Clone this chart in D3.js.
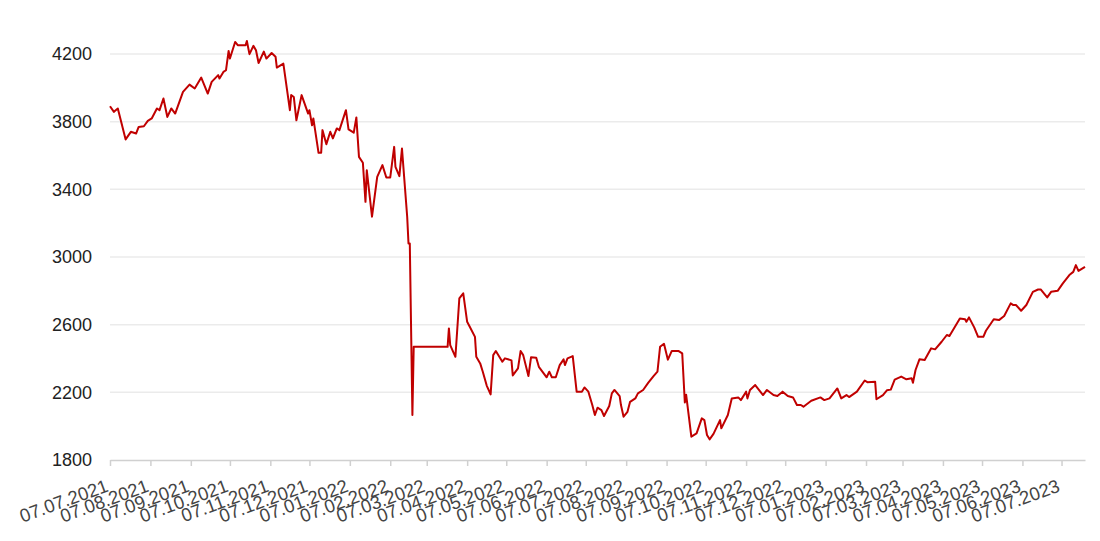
<!DOCTYPE html>
<html>
<head>
<meta charset="utf-8">
<script src="https://cdn.jsdelivr.net/npm/d3@7"></script>
<style>
  html, body { margin: 0; padding: 0; background: #fff; }
  svg { display: block; font-family: "Liberation Sans", Arial, sans-serif; }
</style>
</head>
<body>
<svg id="chart" width="1100" height="541"></svg>
<script>
const dates = [
"2021-07-07","2021-07-10","2021-07-13","2021-07-19","2021-07-23","2021-07-27","2021-07-29","2021-08-02","2021-08-05","2021-08-08",
"2021-08-12","2021-08-14","2021-08-17","2021-08-20","2021-08-23","2021-08-26","2021-09-01","2021-09-06","2021-09-10","2021-09-15",
"2021-09-20","2021-09-23","2021-09-28","2021-09-29","2021-10-02","2021-10-04","2021-10-06","2021-10-07","2021-10-11","2021-10-13",
"2021-10-19","2021-10-20","2021-10-22","2021-10-25","2021-10-27","2021-10-29","2021-11-02","2021-11-04","2021-11-08","2021-11-11",
"2021-11-12","2021-11-17","2021-11-22","2021-11-23","2021-11-25","2021-11-27","2021-12-01","2021-12-06","2021-12-07","2021-12-09",
"2021-12-10","2021-12-14","2021-12-16","2021-12-17","2021-12-20","2021-12-23","2021-12-25","2021-12-28","2021-12-30","2022-01-04",
"2022-01-06","2022-01-10","2022-01-12","2022-01-14","2022-01-17","2022-01-19","2022-01-20","2022-01-24","2022-01-28","2022-02-01",
"2022-02-04","2022-02-07","2022-02-10","2022-02-11","2022-02-14","2022-02-16","2022-02-20","2022-02-21","2022-02-22","2022-02-24",
"2022-02-25","2022-03-23","2022-03-24","2022-03-25","2022-03-29","2022-04-01","2022-04-04","2022-04-07","2022-04-09","2022-04-13",
"2022-04-14","2022-04-17","2022-04-19","2022-04-22","2022-04-25","2022-04-27","2022-04-29","2022-05-04","2022-05-06","2022-05-11",
"2022-05-12","2022-05-16","2022-05-18","2022-05-20","2022-05-24","2022-05-26","2022-05-30","2022-06-01","2022-06-07","2022-06-09",
"2022-06-11","2022-06-14","2022-06-17","2022-06-20","2022-06-21","2022-06-23","2022-06-27","2022-06-30","2022-07-04","2022-07-06",
"2022-07-09","2022-07-12","2022-07-14","2022-07-16","2022-07-19","2022-07-21","2022-07-25","2022-07-27","2022-07-29","2022-08-02",
"2022-08-03","2022-08-05","2022-08-08","2022-08-10","2022-08-14","2022-08-16","2022-08-20","2022-08-24","2022-08-28","2022-08-31",
"2022-09-02","2022-09-05","2022-09-08","2022-09-11","2022-09-16","2022-09-19","2022-09-21","2022-09-22","2022-09-26","2022-09-30",
"2022-10-04","2022-10-06","2022-10-08","2022-10-10","2022-10-13","2022-10-18","2022-10-19","2022-10-24","2022-10-27","2022-11-01",
"2022-11-03","2022-11-07","2022-11-08","2022-11-10","2022-11-14","2022-11-20","2022-11-23","2022-11-28","2022-12-01","2022-12-05",
"2022-12-09","2022-12-13","2022-12-16","2022-12-19","2022-12-21","2022-12-27","2023-01-03","2023-01-06","2023-01-10","2023-01-16",
"2023-01-19","2023-01-23","2023-01-25","2023-01-31","2023-02-06","2023-02-08","2023-02-14","2023-02-15","2023-02-20","2023-02-23",
"2023-02-26","2023-03-01","2023-03-06","2023-03-10","2023-03-14","2023-03-15","2023-03-17","2023-03-20","2023-03-24","2023-03-29",
"2023-04-01","2023-04-06","2023-04-10","2023-04-12","2023-04-20","2023-04-24","2023-04-25","2023-04-27","2023-05-01","2023-05-04",
"2023-05-08","2023-05-10","2023-05-16","2023-05-20","2023-05-24","2023-05-29","2023-05-31","2023-06-02","2023-06-06","2023-06-10",
"2023-06-15","2023-06-19","2023-06-21","2023-06-26","2023-06-29","2023-07-04","2023-07-08","2023-07-13","2023-07-16","2023-07-18",
"2023-07-20","2023-07-25"
];
const values = [
3891,3858,3878,3695,3740,3730,3769,3773,3805,3819,
3878,3868,3937,3828,3878,3848,3976,4019,3996,4061,
3966,4035,4075,4055,4094,4104,4218,4173,4271,4252,
4252,4277,4199,4248,4222,4147,4214,4173,4206,4184,
4120,4143,3868,3957,3946,3808,3957,3848,3868,3779,
3819,3616,3616,3750,3667,3740,3701,3760,3750,3868,
3754,3735,3825,3592,3557,3326,3513,3238,3474,3543,
3470,3470,3651,3533,3478,3641,3238,3080,3080,2066,
2469,2469,2578,2479,2410,2755,2785,2617,2588,2528,
2410,2371,2322,2240,2188,2420,2444,2381,2401,2389,
2300,2342,2444,2420,2296,2407,2404,2351,2289,2322,
2289,2289,2361,2395,2361,2401,2414,2204,2204,2229,
2204,2125,2066,2109,2095,2060,2119,2194,2214,2178,
2125,2056,2085,2144,2164,2194,2214,2257,2296,2322,
2469,2487,2393,2445,2445,2430,2140,2186,1938,1957,
2046,2036,1948,1922,1954,2036,1987,2066,2164,2170,
2154,2204,2164,2214,2243,2184,2214,2184,2178,2204,
2178,2170,2125,2125,2115,2150,2170,2154,2164,2223,
2164,2184,2172,2204,2270,2260,2263,2159,2184,2212,
2216,2275,2293,2277,2283,2257,2332,2395,2391,2460,
2454,2499,2539,2533,2637,2632,2617,2643,2584,2528,
2528,2564,2632,2627,2651,2726,2716,2716,2682,2716,
2794,2808,2808,2761,2794,2800,2844,2893,2912,2952,
2918,2942
];
const yTicks = [1800, 2200, 2600, 3000, 3400, 3800, 4200];
const xTickDates = [
"2021-07-07","2021-08-07","2021-09-07","2021-10-07","2021-11-07","2021-12-07",
"2022-01-07","2022-02-07","2022-03-07","2022-04-07","2022-05-07","2022-06-07",
"2022-07-07","2022-08-07","2022-09-07","2022-10-07","2022-11-07","2022-12-07",
"2023-01-07","2023-02-07","2023-03-07","2023-04-07","2023-05-07","2023-06-07","2023-07-07"
];
const domainStart = "2021-07-07";
const domainEnd = "2023-07-25";

const parse = d3.timeParse("%Y-%m-%d");
const fmt = d3.timeFormat("%d.%m.%Y");
const data = dates.map((d, i) => ({ date: parse(d), value: values[i] }));

const svg = d3.select("#chart");
const x = d3.scaleTime().domain([parse(domainStart), parse(domainEnd)]).range([110, 1085]);
const y = d3.scaleLinear().domain([1800, 4200]).range([460, 54]);

// gridlines
svg.append("g")
  .selectAll("line")
  .data(yTicks.filter(t => t !== 1800))
  .join("line")
  .attr("x1", x.range()[0]).attr("x2", x.range()[1])
  .attr("y1", d => y(d)).attr("y2", d => y(d))
  .attr("stroke", "#ebebeb").attr("stroke-width", 1.5);

// y axis labels
const yAxis = d3.axisLeft(y).tickValues(yTicks).tickSize(0).tickPadding(18).tickFormat(d3.format("d"));
const gy = svg.append("g").attr("transform", "translate(110,0)").call(yAxis);
gy.select(".domain").remove();
gy.selectAll("text").attr("font-size", 18).attr("fill", "#222").attr("font-family", "'Liberation Sans', Arial, sans-serif");

// x axis
const xAxis = d3.axisBottom(x).tickValues(xTickDates.map(parse)).tickSize(6).tickSizeOuter(0).tickFormat(fmt);
const gx = svg.append("g").attr("transform", "translate(0,460)").call(xAxis);
gx.select(".domain").attr("stroke", "#d0d0d0").attr("stroke-width", 1.5);
gx.selectAll(".tick line").attr("stroke", "#d0d0d0").attr("stroke-width", 1.5);
gx.selectAll("text")
  .attr("font-size", 18.5)
  .attr("fill", "#444")
  .attr("font-family", "'Liberation Sans', Arial, sans-serif")
  .attr("text-anchor", "end")
  .attr("dy", null)
  .attr("y", 0)
  .attr("transform", "translate(-1,31) rotate(-20)");

// line
const line = d3.line().x(d => x(d.date)).y(d => y(d.value));
svg.append("path")
  .datum(data)
  .attr("fill", "none")
  .attr("stroke", "#c00000")
  .attr("stroke-width", 2)
  .attr("stroke-linejoin", "round")
  .attr("d", line);
</script>
</body>
</html>
